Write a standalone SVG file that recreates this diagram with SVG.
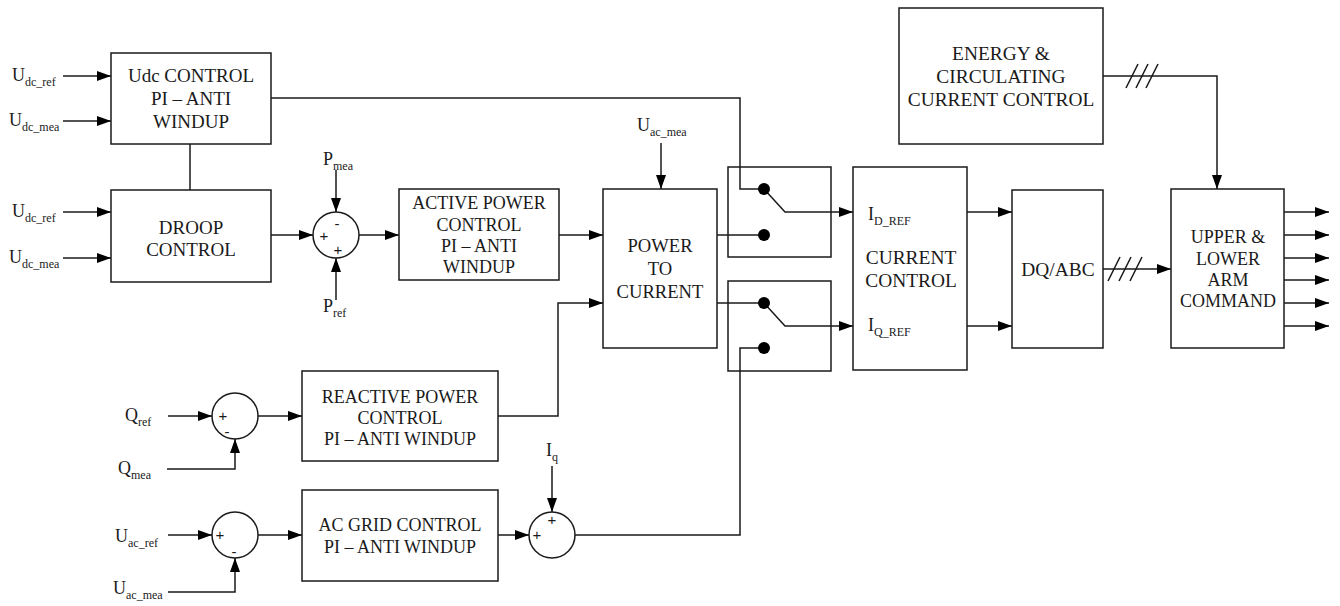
<svg xmlns="http://www.w3.org/2000/svg" width="1340" height="606" viewBox="0 0 1340 606" font-family="'Liberation Serif', 'Times New Roman', serif">
<defs>
<marker id="ah" markerUnits="userSpaceOnUse" markerWidth="15" markerHeight="10" refX="14" refY="5" orient="auto">
<path d="M0,0 L14,5 L0,10 z" fill="#000"/>
</marker>
<style>
.box{fill:#fff;stroke:#1a1a1a;stroke-width:1.5}
.ln{fill:none;stroke:#1a1a1a;stroke-width:1.5}
.ar{fill:none;stroke:#1a1a1a;stroke-width:1.5;marker-end:url(#ah)}
.t{font-size:18px;fill:#1a1a1a}
.L{font-size:19px}
.XL{font-size:19.4px}
.c{text-anchor:middle}
.s{font-size:12px}
.sg{font-family:'Liberation Sans',Arial,sans-serif;font-size:15px;fill:#1a1a1a;text-anchor:middle}
.dot{fill:#000}
</style>
</defs>
<rect width="1340" height="606" fill="#fff"/>

<g id="connectors">
<line class="ar" x1="63" y1="76" x2="111" y2="76"/>
<line class="ar" x1="63" y1="121" x2="111" y2="121"/>
<line class="ln" x1="190" y1="144" x2="190" y2="190"/>
<line class="ar" x1="63" y1="212" x2="111" y2="212"/>
<line class="ar" x1="63" y1="258" x2="111" y2="258"/>
<line class="ar" x1="271" y1="235" x2="313" y2="235"/>
<line class="ar" x1="336" y1="170" x2="336" y2="212"/>
<line class="ar" x1="336" y1="300" x2="336" y2="258"/>
<line class="ar" x1="359" y1="235" x2="399" y2="235"/>
<line class="ar" x1="559" y1="235" x2="603" y2="235"/>
<line class="ar" x1="661" y1="143" x2="661" y2="189"/>
<polyline class="ln" points="271,98 740,98 740,189 764,189"/>
<line class="ln" x1="717" y1="235" x2="764" y2="235"/>
<line class="ln" x1="717" y1="303" x2="764" y2="303"/>
<polyline class="ar" points="764,189 785,212 853,212"/>
<polyline class="ar" points="764,303 785,326 853,326"/>
<line class="ar" x1="967" y1="212" x2="1012" y2="212"/>
<line class="ar" x1="967" y1="326" x2="1012" y2="326"/>
<line class="ar" x1="1103" y1="269" x2="1171" y2="269"/>
<line class="ln" x1="1108" y1="281" x2="1120" y2="257"/>
<line class="ln" x1="1119" y1="281" x2="1131" y2="257"/>
<line class="ln" x1="1130" y1="281" x2="1142" y2="257"/>
<polyline class="ar" points="1103,76 1217,76 1217,189"/>
<line class="ln" x1="1126" y1="88" x2="1138" y2="64"/>
<line class="ln" x1="1136" y1="88" x2="1148" y2="64"/>
<line class="ln" x1="1146" y1="88" x2="1158" y2="64"/>
<line class="ar" x1="1284" y1="212" x2="1329" y2="212"/>
<line class="ar" x1="1284" y1="235" x2="1329" y2="235"/>
<line class="ar" x1="1284" y1="258" x2="1329" y2="258"/>
<line class="ar" x1="1284" y1="280" x2="1329" y2="280"/>
<line class="ar" x1="1284" y1="303" x2="1329" y2="303"/>
<line class="ar" x1="1284" y1="326" x2="1329" y2="326"/>
<line class="ar" x1="168" y1="416" x2="212" y2="416"/>
<polyline class="ar" points="167,469 235,469 235,439"/>
<line class="ar" x1="258" y1="416" x2="302" y2="416"/>
<polyline class="ar" points="498,416 558,416 558,303 603,303"/>
<line class="ar" x1="168" y1="535" x2="212" y2="535"/>
<polyline class="ar" points="168,592 235,592 235,558"/>
<line class="ar" x1="258" y1="535" x2="302" y2="535"/>
<line class="ar" x1="498" y1="535" x2="529" y2="535"/>
<line class="ar" x1="552" y1="466" x2="552" y2="512"/>
<polyline class="ln" points="575,535 740,535 740,348 764,348"/>
</g>

<g id="udc-control">
<rect class="box" x="111" y="53" width="160" height="91"/>
<text class="t L c" x="191" y="82">Udc CONTROL</text>
<text class="t L c" x="191" y="105">PI – ANTI</text>
<text class="t L c" x="191" y="128">WINDUP</text>
</g>
<g id="droop">
<rect class="box" x="111" y="190" width="160" height="92"/>
<text class="t L c" x="191" y="234">DROOP</text>
<text class="t L c" x="191" y="256">CONTROL</text>
</g>
<g id="labels-left">
<text class="t" x="12" y="81">U<tspan class="s" dy="5">dc_ref</tspan></text>
<text class="t" x="9" y="126">U<tspan class="s" dy="5">dc_mea</tspan></text>
<text class="t" x="12" y="217">U<tspan class="s" dy="5">dc_ref</tspan></text>
<text class="t" x="9" y="263">U<tspan class="s" dy="5">dc_mea</tspan></text>
</g>
<g id="sum-p">
<circle class="box" cx="336" cy="235" r="23"/>
<text class="sg" x="337" y="229">-</text>
<text class="sg" x="324" y="241">+</text>
<text class="sg" x="338" y="255">+</text>
<text class="t" x="323" y="165">P<tspan class="s" dy="5">mea</tspan></text>
<text class="t" x="323" y="312">P<tspan class="s" dy="5">ref</tspan></text>
</g>
<g id="active-power">
<rect class="box" x="399" y="189" width="160" height="91"/>
<text class="t c" x="479" y="209">ACTIVE POWER</text>
<text class="t c" x="479" y="231">CONTROL</text>
<text class="t c" x="479" y="252">PI – ANTI</text>
<text class="t c" x="479" y="273">WINDUP</text>
</g>
<g id="power-to-current">
<rect class="box" x="603" y="189" width="114" height="159"/>
<text class="t c" x="660" y="252" style="font-size:18.6px">POWER</text>
<text class="t c" x="660" y="275" style="font-size:18.6px">TO</text>
<text class="t c" x="660" y="298" style="font-size:18.6px">CURRENT</text>
<text class="t" x="637" y="131">U<tspan class="s" dy="5">ac_mea</tspan></text>
</g>
<g id="switch-d">
<rect class="box" x="728" y="167" width="103" height="90" style="fill:none"/>
<circle class="dot" cx="764" cy="189" r="6"/>
<circle class="dot" cx="764" cy="235" r="6"/>
</g>
<g id="switch-q">
<rect class="box" x="728" y="281" width="103" height="90" style="fill:none"/>
<circle class="dot" cx="764" cy="303" r="6"/>
<circle class="dot" cx="764" cy="348" r="6"/>
</g>
<g id="current-control">
<rect class="box" x="853" y="167" width="114" height="203"/>
<text class="t" x="868" y="220">I<tspan class="s" dy="5">D_REF</tspan></text>
<text class="t XL c" x="911" y="264">CURRENT</text>
<text class="t XL c" x="911" y="287">CONTROL</text>
<text class="t" x="868" y="331">I<tspan class="s" dy="5">Q_REF</tspan></text>
</g>
<g id="dq-abc">
<rect class="box" x="1012" y="190" width="91" height="158"/>
<text class="t XL c" x="1058" y="276">DQ/ABC</text>
</g>
<g id="energy">
<rect class="box" x="899" y="8" width="204" height="136"/>
<text class="t XL c" x="1001" y="60">ENERGY &amp;</text>
<text class="t XL c" x="1001" y="83">CIRCULATING</text>
<text class="t XL c" x="1001" y="106">CURRENT CONTROL</text>
</g>
<g id="upper-lower">
<rect class="box" x="1171" y="189" width="113" height="159"/>
<text class="t c" x="1228" y="243">UPPER &amp;</text>
<text class="t c" x="1228" y="265">LOWER</text>
<text class="t c" x="1228" y="286">ARM</text>
<text class="t c" x="1228" y="307">COMMAND</text>
</g>
<g id="sum-q">
<circle class="box" cx="235" cy="416" r="23"/>
<text class="sg" x="223" y="421">+</text>
<text class="sg" x="227" y="437">-</text>
<text class="t" x="125" y="421">Q<tspan class="s" dy="5">ref</tspan></text>
<text class="t" x="118" y="474">Q<tspan class="s" dy="5">mea</tspan></text>
</g>
<g id="reactive-power">
<rect class="box" x="302" y="371" width="196" height="90"/>
<text class="t c" x="400" y="403">REACTIVE POWER</text>
<text class="t c" x="400" y="424">CONTROL</text>
<text class="t c" x="400" y="445">PI – ANTI WINDUP</text>
</g>
<g id="sum-ac">
<circle class="box" cx="235" cy="535" r="23"/>
<text class="sg" x="220" y="540">+</text>
<text class="sg" x="234" y="557">-</text>
<text class="t" x="115" y="542">U<tspan class="s" dy="5">ac_ref</tspan></text>
<text class="t" x="113" y="594">U<tspan class="s" dy="5">ac_mea</tspan></text>
</g>
<g id="ac-grid">
<rect class="box" x="302" y="490" width="196" height="91"/>
<text class="t c" x="400" y="531">AC GRID CONTROL</text>
<text class="t c" x="400" y="553">PI – ANTI WINDUP</text>
</g>
<g id="sum-iq">
<circle class="box" cx="552" cy="535" r="23"/>
<text class="sg" x="537" y="540">+</text>
<text class="sg" x="552" y="525">+</text>
<text class="t" x="546" y="456">I<tspan class="s" dy="5">q</tspan></text>
</g>
</svg>
